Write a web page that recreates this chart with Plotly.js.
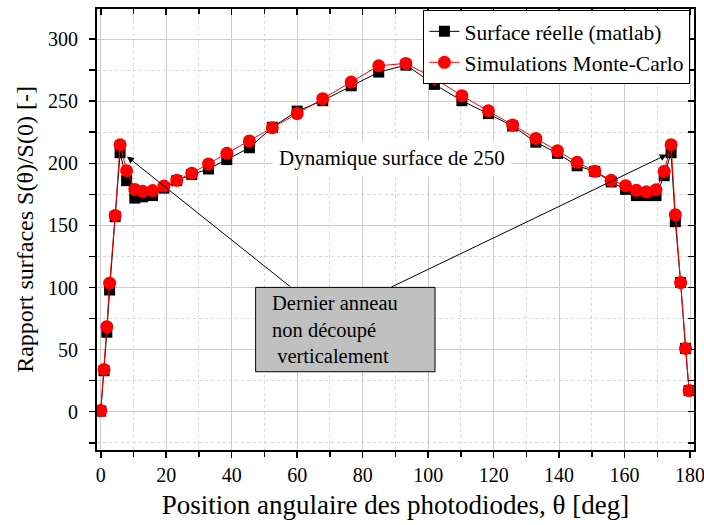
<!DOCTYPE html>
<html>
<head>
<meta charset="utf-8">
<script src="https://cdn.plot.ly/plotly-3.0.1.min.js"></script>
<style>html,body{margin:0;padding:0;background:#fff;}#chart{width:704px;height:525px;}</style>
</head>
<body>
<div id="chart"></div>
<script>
// Angular positions of the photodiodes (deg)
const theta = [0, 1, 1.85, 2.7, 4.4, 5.9, 7.9, 10.4, 12.8, 15.8, 19.3, 23.2, 27.8, 32.9, 38.5, 45.4, 52.4, 60, 67.8, 76.5, 84.9, 93.2, 101.9, 110.3, 118.4, 125.8, 132.9, 139.5, 145.5, 150.9, 155.9, 160.3, 163.6, 166.7, 169.6, 172.1, 174.2, 175.5, 177.1, 178.6, 179.7];
// Surface réelle (matlab)
const surfaceReelle = [0.5, 33, 64, 98, 157, 208.5, 186, 172, 173, 174, 180, 186, 191, 195.4, 203, 212.5, 229, 242, 250.4, 262.4, 273.4, 279, 263.5, 250.4, 240, 230, 217, 208, 198, 193.5, 185, 179, 174, 174, 174, 190, 208.5, 153, 104, 51, 17];
// Simulations Monte-Carlo
const monteCarlo = [1, 34, 68.5, 103.5, 158, 215, 194, 179, 177.4, 178, 181.7, 186.3, 192, 199.5, 208, 218, 228.6, 240, 252, 265.4, 278.5, 280.4, 268.3, 254.4, 242.3, 230.8, 220, 210, 200.8, 193.5, 186.3, 182, 178.2, 177, 178.7, 193.5, 215, 158.6, 104, 51, 17];

const seriesNames = ["Surface réelle (matlab)", "Simulations Monte-Carlo"];
const xTickVals = [0, 20, 40, 60, 80, 100, 120, 140, 160, 180];
const yTickVals = [0, 50, 100, 150, 200, 250, 300];
const xTitle = "Position angulaire des photodiodes, θ [deg]";
const yTitle = "Rapport surfaces S(θ)/S(0) [-]";
const noteText = "Dynamique surface de 250";
const boxLines = ["Dernier anneau", "non découpé", "&nbsp;verticalement"];

const FONT = '"Liberation Serif", "Times New Roman", serif';
const XR = [-1.15, 181.2];
const YR = [-30.8, 324.2];

const traces = [
  {x: theta, y: surfaceReelle, name: seriesNames[0], type: 'scatter', mode: 'lines+markers',
   xaxis: 'x', yaxis: 'y',
   line: {color: '#000000', width: 1}, marker: {symbol: 'square', size: 11, color: '#000000'}},
  {x: theta, y: monteCarlo, name: seriesNames[1], type: 'scatter', mode: 'lines+markers',
   xaxis: 'x2', yaxis: 'y2',
   line: {color: '#ff0000', width: 1}, marker: {symbol: 'circle', size: 13, color: '#ff0000'}}
];

const layout = {
  width: 704, height: 525,
  margin: {l: 97, r: 10, t: 9, b: 75},
  paper_bgcolor: '#ffffff', plot_bgcolor: '#ffffff',
  font: {family: FONT, color: '#000000', size: 20},
  showlegend: true,
  legend: {x: 0.994, xanchor: 'right', y: 0.998, yanchor: 'top', bgcolor: '#ffffff',
           bordercolor: '#000000', borderwidth: 1, font: {family: FONT, size: 21.5, color: '#000'},
           tracegroupgap: 0, itemwidth: 30, traceorder: 'normal'},
  xaxis: {range: XR, tickvals: xTickVals, ticks: 'outside', ticklen: 6, tickwidth: 1.5, tickcolor: '#000',
          showline: true, linecolor: '#000', linewidth: 2, mirror: true, zeroline: false,
          showgrid: true, gridcolor: '#cccccc', gridwidth: 1, ticklabeloverflow: 'allow',
          minor: {dtick: 10, ticks: 'outside', ticklen: 5, tickcolor: '#000', showgrid: true, gridcolor: '#d6d6d6', griddash: 'dot'},
          tickfont: {family: FONT, size: 20},
          title: {text: xTitle, font: {family: FONT, size: 27}, standoff: 10}},
  yaxis: {range: YR, tickvals: yTickVals, ticks: 'outside', ticklen: 6, tickwidth: 1.5, tickcolor: '#000',
          showline: true, linecolor: '#000', linewidth: 2, mirror: true, zeroline: false,
          showgrid: true, gridcolor: '#cccccc', gridwidth: 1, ticklabelposition: 'outside', ticklabelstandoff: 7,
          minor: {dtick: 25, ticks: 'outside', ticklen: 6, tickcolor: '#000', showgrid: true, gridcolor: '#d6d6d6', griddash: 'dot'},
          tickfont: {family: FONT, size: 20},
          title: {text: yTitle, font: {family: FONT, size: 24}, standoff: 8}},
  xaxis2: {range: XR, overlaying: 'x', side: 'top', anchor: 'y2', tickvals: xTickVals, ticks: 'inside', ticklen: 6,
           tickwidth: 1.5, tickcolor: '#000', showticklabels: false, showgrid: false, zeroline: false, showline: false,
           minor: {dtick: 10, ticks: 'inside', ticklen: 5, tickcolor: '#000', showgrid: false}},
  yaxis2: {range: YR, overlaying: 'y', side: 'right', anchor: 'x2', tickvals: yTickVals, ticks: 'inside', ticklen: 6,
           tickwidth: 1.5, tickcolor: '#000', showticklabels: false, showgrid: false, zeroline: false, showline: false,
           minor: {dtick: 25, ticks: 'inside', ticklen: 6, tickcolor: '#000', showgrid: false}},
  shapes: [
    {type: 'rect', xref: 'x', yref: 'y', x0: 47.3, x1: 102.1, y0: 32.2, y1: 100.1, layer: 'above',
     fillcolor: '#c0c0c0', line: {color: '#000', width: 1}}
  ],
  annotations: [
    {xref: 'x', yref: 'y', x: 89, y: 204.2, text: noteText, showarrow: false, bgcolor: '#ffffff', borderpad: 6,
     font: {family: FONT, size: 21, color: '#000'}},
    {xref: 'x', yref: 'y', axref: 'x', ayref: 'y', x: 8.0, y: 205.5, ax: 58.3, ay: 99.8, text: '', showarrow: true,
     arrowhead: 2, arrowsize: 1.4, arrowwidth: 1, arrowcolor: '#000'},
    {xref: 'x', yref: 'y', axref: 'x', ayref: 'y', x: 172.9, y: 207, ax: 88.3, ay: 99.8, text: '', showarrow: true,
     arrowhead: 2, arrowsize: 1.4, arrowwidth: 1, arrowcolor: '#000'},
    {xref: 'x', yref: 'y', x: 51.6, y: 66.2, xanchor: 'left', yanchor: 'middle', align: 'left',
     text: boxLines.join('<br>'), showarrow: false, font: {family: FONT, size: 20.5, color: '#000'}}
  ]
};

Plotly.newPlot('chart', traces, layout, {displayModeBar: false, staticPlot: true});
</script>
</body>
</html>
